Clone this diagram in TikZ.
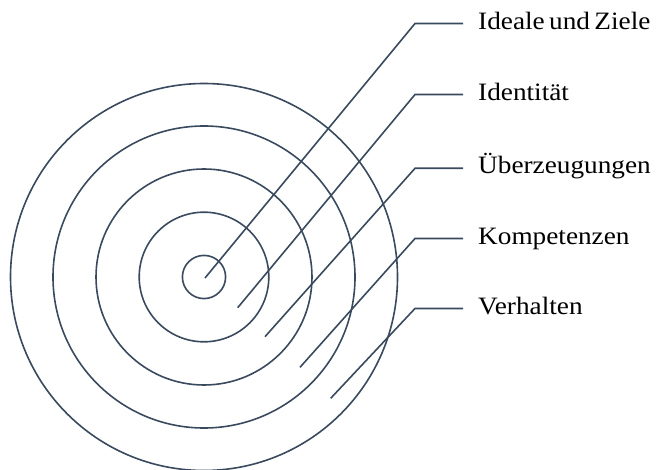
\documentclass[tikz,border=0pt]{standalone}
\usepackage{fontspec}
\setmainfont{Liberation Serif}[FakeStretch=1.09]
\definecolor{ink}{HTML}{3A4A5E}
\begin{document}
\begin{tikzpicture}[x=1pt,y=-1pt,
  ring/.style={circle,draw=ink,line width=1.6pt,inner sep=0pt,minimum size=#1},
  leader/.style={draw=ink,line width=1.6pt},
  lbl/.style={anchor=base west,inner sep=0pt,text=black,font=\fontsize{25}{30}\selectfont}]
\useasboundingbox (0,0) rectangle (656,470);
% rings
\node[ring=43.2pt]  (r1) at (204,277) {};
\node[ring=129.6pt] (r2) at (204,277) {};
\node[ring=216pt]   (r3) at (204,277) {};
\node[ring=302pt]   (r4) at (204,277) {};
\node[ring=387pt]   (r5) at (204,277) {};
% start points
\coordinate (s1) at (205,278);
\coordinate (s2) at (237.7,307.7);
\coordinate (s3) at (265,336.7);
\coordinate (s4) at (300,367.3);
\coordinate (s5) at (330.7,398.3);
% corners
\coordinate (k1) at (415,23.5);
\coordinate (k2) at (415,94.5);
\coordinate (k3) at (415,168.3);
\coordinate (k4) at (415,238.5);
\coordinate (k5) at (415,308.5);
% ends
\coordinate (e1) at (463,23.5);
\coordinate (e2) at (463,94.5);
\coordinate (e3) at (463,168.3);
\coordinate (e4) at (463,238.5);
\coordinate (e5) at (463,308.5);
% labels
\node[lbl] (l1) at (478,29.2) {Ideale\hspace{4.4pt}und\hspace{4.4pt}Ziele};
\node[lbl] (l2) at (478,100.2) {Identität};
\node[lbl] (l3) at (478,174) {Überzeugungen};
\node[lbl] (l4) at (478,244.2) {Kompetenzen};
\node[lbl] (l5) at (478,314.2) {Verhalten};
% leaders
\draw[leader,line join=miter] (s1) -- (k1) -- (e1);
\draw[leader,line join=miter] (s2) -- (k2) -- (e2);
\draw[leader,line join=miter] (s3) -- (k3) -- (e3);
\draw[leader,line join=miter] (s4) -- (k4) -- (e4);
\draw[leader,line join=miter] (s5) -- (k5) -- (e5);
\end{tikzpicture}
\end{document}
